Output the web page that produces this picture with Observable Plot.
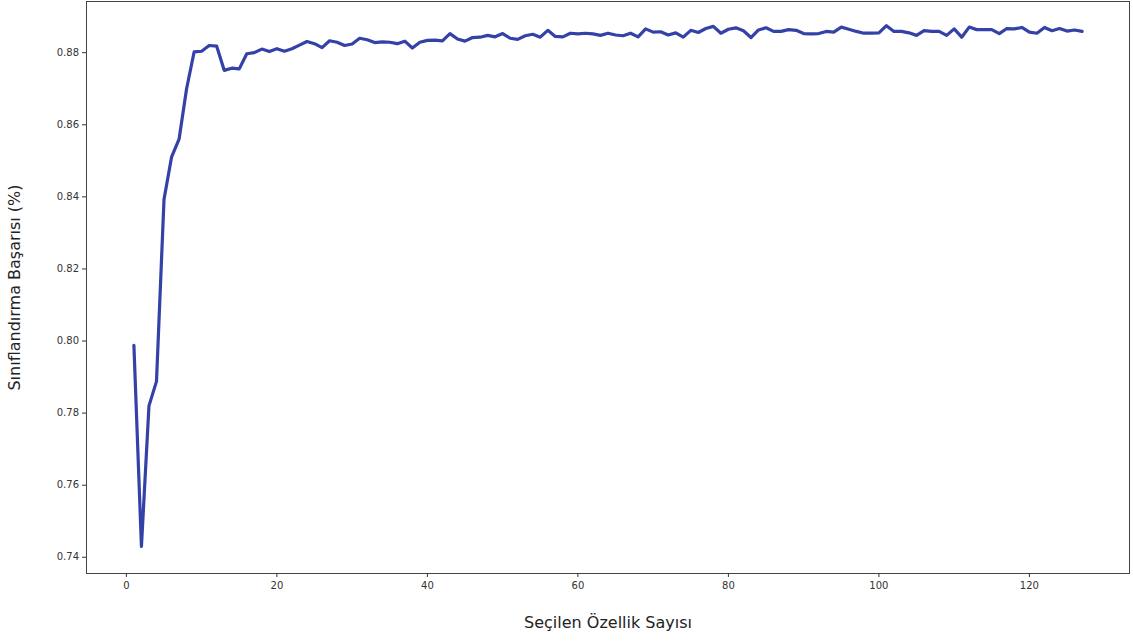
<!DOCTYPE html>
<html>
<head>
<meta charset="utf-8">
<script src="https://cdn.jsdelivr.net/npm/d3@7"></script>
<script src="https://cdn.jsdelivr.net/npm/@observablehq/plot@0.6"></script>
<style>
  html, body { margin: 0; padding: 0; background: #fff; }
  #chart svg { display: block; }
</style>
</head>
<body>
<div id="chart"></div>
<script>
// Classification accuracy by number of selected features (1..127)
const featureCounts = d3.range(1, 128);
const accuracy = [
  0.7988, 0.7430, 0.7820, 0.7888, 0.8393, 0.8510, 0.8560, 0.8700, 0.8802, 0.8804,
  0.8820, 0.8818, 0.8751, 0.8757, 0.8755, 0.8797, 0.8800, 0.8810, 0.8803, 0.8811,
  0.8804, 0.8811, 0.8821, 0.8831, 0.8825, 0.8814, 0.8833, 0.8829, 0.8820, 0.8824,
  0.8840, 0.8836, 0.8828, 0.8830, 0.8829, 0.8825, 0.8832, 0.8813, 0.8829, 0.8834,
  0.8835, 0.8833, 0.8853, 0.8838, 0.8832, 0.8842, 0.8843, 0.8848, 0.8844, 0.8853,
  0.8840, 0.8837, 0.8847, 0.8851, 0.8843, 0.8862, 0.8845, 0.8844, 0.8854, 0.8852,
  0.8854, 0.8852, 0.8848, 0.8854, 0.8849, 0.8847, 0.8854, 0.8844, 0.8866, 0.8857,
  0.8858, 0.8849, 0.8855, 0.8843, 0.8862, 0.8856, 0.8867, 0.8873, 0.8854, 0.8865,
  0.8869, 0.8861, 0.8842, 0.8863, 0.8869, 0.8859, 0.8859, 0.8864, 0.8862, 0.8853,
  0.8852, 0.8853, 0.8859, 0.8857, 0.8871, 0.8865, 0.8859, 0.8854, 0.8854, 0.8855,
  0.8875, 0.8859, 0.8859, 0.8855, 0.8848, 0.8861, 0.8859, 0.8859, 0.8848, 0.8866,
  0.8843, 0.8871, 0.8864, 0.8864, 0.8864, 0.8853, 0.8867, 0.8866, 0.8870, 0.8857,
  0.8854, 0.8870, 0.8861, 0.8867, 0.8860, 0.8863, 0.8859
];
const xTicks = [0, 20, 40, 60, 80, 100, 120];
const yTicks = [0.74, 0.76, 0.78, 0.80, 0.82, 0.84, 0.86, 0.88];
const xLabel = "Seçilen Özellik Sayısı";
const yLabel = "Sınıflandırma Başarısı (%)";

const rows = featureCounts.map((n, i) => ({n, acc: accuracy[i]}));

const chart = Plot.plot({
  width: 1133,
  height: 644,
  marginLeft: 86,
  marginRight: 4,
  marginTop: 1,
  marginBottom: 71,
  style: {fontFamily: "DejaVu Sans", fontSize: "10px", color: "#333", background: "#fff"},
  x: {domain: [-5.3, 133.3]},
  y: {domain: [0.7355, 0.8942]},
  marks: [
    Plot.frame({stroke: "#444", strokeWidth: 1}),
    Plot.axisX({
      ticks: xTicks, tickSize: 4, tickPadding: 4.5, tickFormat: d3.format("d"),
      label: xLabel, labelAnchor: "center", labelArrow: false, labelOffset: 54,
      fontSize: 10
    }),
    Plot.axisY({
      ticks: yTicks, tickSize: 4, tickPadding: 3.5, tickFormat: d3.format(".2f"),
      label: yLabel, labelAnchor: "center", labelArrow: false, labelOffset: 78,
      fontSize: 10
    }),
    Plot.line(rows, {x: "n", y: "acc", stroke: "#3441a6", strokeWidth: 3.2, strokeLinejoin: "round", strokeLinecap: "round"})
  ]
});

// Larger axis titles
d3.select(chart).selectAll("g[aria-label='x-axis label'] text, g[aria-label='y-axis label'] text")
  .style("font-size", "16px").attr("fill", "#222");

document.getElementById("chart").appendChild(chart);
</script>
</body>
</html>
